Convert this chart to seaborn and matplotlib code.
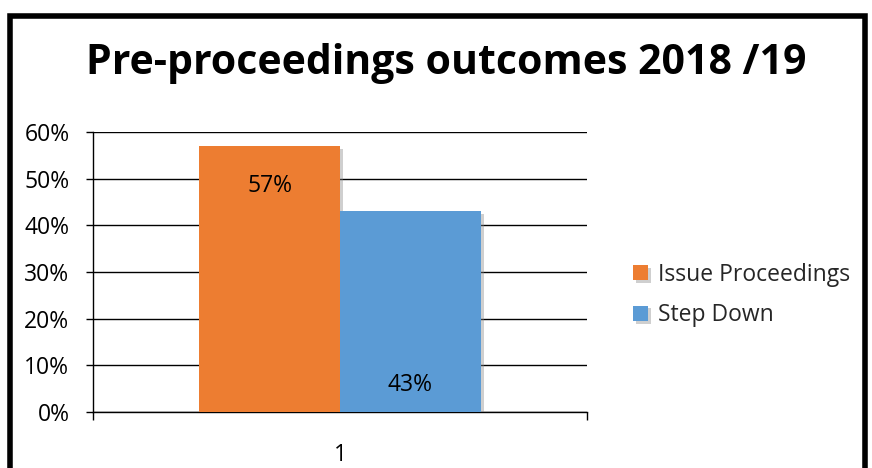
import matplotlib
matplotlib.use("Agg")
import matplotlib.pyplot as plt
import matplotlib.patheffects as pe
from matplotlib.patches import Rectangle
from matplotlib.ticker import PercentFormatter
import seaborn as sns
import pandas as pd

categories = ["1"]
series = ["Issue Proceedings", "Step Down"]
values = [0.57, 0.43]
labels = ["57%", "43%"]
colors = ["#ED7D31", "#5B9BD5"]

df = pd.DataFrame({"category": categories * len(series),
                   "series": series,
                   "value": values})

sns.set_theme(style="white")
plt.rcParams["font.family"] = ["Open Sans", "DejaVu Sans"]

W, H = 872, 468
fig = plt.figure(figsize=(W / 100, H / 100), dpi=100)
ax = fig.add_axes([93 / W, 1 - 412 / H, (587 - 93) / W, (412 - 132) / H])

sns.barplot(data=df, x="category", y="value", hue="series", palette=colors,
            width=0.57, gap=0, saturation=1, ax=ax, zorder=3)

shadow = [pe.SimplePatchShadow(offset=(2.5, -2), shadow_rgbFace="#888888", alpha=0.4),
          pe.Normal()]
for bar in ax.patches:
    bar.set_path_effects(shadow)
    bar.set_edgecolor("none")

# value labels: first bar near its top, second near its base
bars = ax.patches[:len(values)]
ax.text(bars[0].get_x() + bars[0].get_width() / 2, values[0] - 0.086, labels[0],
        ha="center", va="center", fontsize=16.5, color="black", zorder=5)
ax.text(bars[1].get_x() + bars[1].get_width() / 2, 0.058, labels[1],
        ha="center", va="center", fontsize=16.5, color="black", zorder=5)

ax.set_ylim(0, 0.6)
ax.set_xlim(-0.5, 0.5)
ax.set_yticks([0, 0.1, 0.2, 0.3, 0.4, 0.5, 0.6])
ax.yaxis.set_major_formatter(PercentFormatter(1.0, decimals=0))
ax.grid(axis="y", color="black", linewidth=1, zorder=0)
ax.set_axisbelow(True)
ax.set_xlabel("")
ax.set_ylabel("")

for s in ["top", "right"]:
    ax.spines[s].set_visible(False)
for s in ["left", "bottom"]:
    ax.spines[s].set_color("black")
    ax.spines[s].set_linewidth(1)

ax.tick_params(axis="y", which="major", direction="out", length=5, width=1,
               color="black", labelsize=16.5, labelcolor="black", pad=12, left=True)
ax.set_xticks([-0.5, 0.5], minor=True)
ax.tick_params(axis="x", which="minor", direction="out", length=6, width=1,
               color="black", bottom=True)
ax.tick_params(axis="x", which="major", length=0, labelsize=16.5,
               labelcolor="black", pad=22)

ax.legend(loc="center left", bbox_to_anchor=(612 / W, 1 - 295 / H),
          bbox_transform=fig.transFigure, frameon=False, fontsize=16.5,
          handlelength=0.65, handleheight=0.65, handletextpad=0.45,
          labelspacing=0.72)

fig.text(446 / W, 1 - 63 / H, "Pre-proceedings outcomes 2018 /19",
         ha="center", va="center", fontsize=29.5, fontweight="bold", color="black")

# outer frame
fig.add_artist(Rectangle((10 / W, -0.1), (865 - 10) / W, 1.1 - 16.5 / H,
                         transform=fig.transFigure, fill=False,
                         edgecolor="black", linewidth=4))

fig.savefig("out.png", dpi=100)
